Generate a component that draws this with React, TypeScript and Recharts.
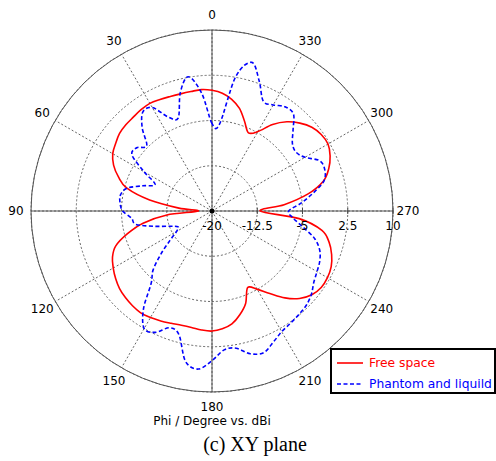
import {
  RadarChart,
  Radar,
  PolarGrid,
  PolarAngleAxis,
  PolarRadiusAxis,
  Legend,
} from "recharts";

// azimuth sampling (deg)
const PHI = [
  0, 5, 10, 15, 20, 25, 30, 35, 40, 45, 50, 55,
  60, 65, 70, 75, 80, 85, 90, 95, 100, 105, 110, 115,
  120, 125, 130, 135, 140, 145, 150, 155, 160, 165, 170, 175,
  180, 185, 190, 195, 200, 205, 210, 215, 220, 225, 230, 235,
  240, 245, 250, 255, 260, 265, 270, 275, 280, 285, 290, 295,
  300, 305, 310, 315, 320, 325, 330, 335, 340, 345, 350, 355,
];

// gain in dBi
const FREE_SPACE = [
  0.0, 0.2, 0.1, 0.1, 0.2, 0.4, 0.6, 0.5, 0.3, 0.2, 0.0, -0.5,
  -1.0, -2.0, -3.5, -5.4, -9.5, -14.5, -17.7, -12.5, -8.4, -5.5, -3.0, -1.8,
  -1.1, -0.5, 0.0, 0.3, 0.5, 0.6, 0.4, 0.1, -0.2, -0.4, -0.4, -0.2,
  -0.1, -0.4, -1.0, -2.2, -3.7, -6.0, -5.0, -3.3, -1.2, 0.5, 1.6, 2.1,
  2.1, 1.8, 1.1, 0.1, -1.5, -5.5, -12.0, -8.0, -3.9, -0.9, 0.6, 1.6,
  2.2, 2.1, 1.6, 0.6, -0.7, -2.5, -4.8, -5.7, -4.2, -2.4, -1.2, -0.4,
];

const PHANTOM_LIQUID = [
  -5.5, -0.4, 2.6, 0.3, -3.6, -2.8, -0.2, 0.0, -2.0, -4.7, -3.7, -3.8,
  -7.0, -9.6, -7.8, -5.4, -4.6, -4.7, -5.2, -6.6, -7.2, -10.2, -12.6, -13.8,
  -13.2, -11.5, -9.0, -6.2, -4.3, -0.2, 2.5, 2.2, 0.6, 1.2, 5.3, 6.3,
  4.8, 3.1, 3.1, 4.5, 5.0, 4.0, 3.1, 2.7, 2.4, 2.1, 1.5, 0.6,
  0.1, -0.3, -1.0, -2.4, -4.7, -6.5, -7.3, -5.2, -3.0, -0.8, -0.1, -0.3,
  -2.2, -3.0, -2.6, -1.0, 1.0, 1.1, 0.3, 0.1, 2.9, 5.5, 2.6, -5.5,
];

const ANGLE_TICKS = [0, 30, 60, 90, 120, 150, 180, 210, 240, 270, 300, 330];
const GAIN_TICKS = [-20, -12.5, -5, 2.5, 10];

const rows = PHI.map((phi, i) => ({
  phi,
  free: FREE_SPACE[i],
  phantom: PHANTOM_LIQUID[i],
}));

const FONT = "'DejaVu Sans', sans-serif";
const OUTER_R = 181;

// closed Catmull-Rom curve through the radar points
function smoothClosed(pts: { x: number; y: number }[]) {
  const n = pts.length;
  if (!n) return "";
  let d = `M${pts[0].x},${pts[0].y}`;
  for (let i = 0; i < n; i++) {
    const p0 = pts[(i - 1 + n) % n];
    const p1 = pts[i];
    const p2 = pts[(i + 1) % n];
    const p3 = pts[(i + 2) % n];
    const c1x = p1.x + (p2.x - p0.x) / 6;
    const c1y = p1.y + (p2.y - p0.y) / 6;
    const c2x = p2.x - (p3.x - p1.x) / 6;
    const c2y = p2.y - (p3.y - p1.y) / 6;
    d += ` C${c1x},${c1y} ${c2x},${c2y} ${p2.x},${p2.y}`;
  }
  return d + " Z";
}

function CurveShape(props: any) {
  return (
    <path
      d={smoothClosed(props.points || [])}
      fill="none"
      stroke={props.stroke}
      strokeWidth={props.strokeWidth}
      strokeDasharray={props.strokeDasharray}
    />
  );
}

function AngleTick({ x, y, payload }: any) {
  return (
    <text
      x={x}
      y={y}
      textAnchor="middle"
      dominantBaseline="central"
      fontSize={12}
      fontFamily={FONT}
      fill="#000"
    >
      {payload.value}
    </text>
  );
}

function GainTick({ x, y, payload }: any) {
  return (
    <g>
      {payload.value === -20 ? (
        <circle cx={x} cy={y} r={2.5} fill="#000" />
      ) : (
        <line x1={x} y1={y - 3} x2={x} y2={y + 3} stroke="#444" />
      )}
      <text
        x={x}
        y={y + 15}
        textAnchor="middle"
        dominantBaseline="central"
        fontSize={12}
        fontFamily={FONT}
        fill="#000"
      >
        {payload.value}
      </text>
    </g>
  );
}

function LegendBox({ payload }: any) {
  return (
    <div
      style={{
        width: 166,
        height: 46,
        boxSizing: "border-box",
        border: "2px solid #000",
        background: "#fff",
        padding: "2px 0 0 5px",
        fontFamily: FONT,
        fontSize: 12.3,
      }}
    >
      {(payload || []).map((entry: any) => (
        <div
          key={entry.value}
          style={{ display: "flex", alignItems: "center", height: 21 }}
        >
          <svg width={26} height={6}>
            <line
              x1={0}
              y1={3}
              x2={26}
              y2={3}
              stroke={entry.color}
              strokeWidth={1.6}
              strokeDasharray={entry.payload?.strokeDasharray}
            />
          </svg>
          <span style={{ color: entry.color, marginLeft: 6, whiteSpace: "nowrap" }}>
            {entry.value}
          </span>
        </div>
      ))}
    </div>
  );
}

export default function App() {
  return (
    <>
      <style>{"html, body { margin: 0; overflow: hidden; }"}</style>
      <div style={{ position: "relative", width: 496, height: 461 }}>
        <RadarChart
          width={496}
          height={461}
          data={rows}
          cx={212}
          cy={211}
          innerRadius={0}
          outerRadius={OUTER_R}
          startAngle={90}
          endAngle={450}
          margin={{ top: 0, right: 0, bottom: 0, left: 0 }}
        >
          {/* dashed rings and 30 deg spokes */}
          <PolarGrid gridType="circle" stroke="#666" strokeDasharray="2 2" />
          {/* solid outer ring and main axes */}
          <PolarGrid
            gridType="circle"
            polarRadius={[OUTER_R]}
            polarAngles={[0, 90, 180, 270]}
            stroke="#555"
          />
          <PolarAngleAxis
            dataKey="phi"
            type="number"
            domain={[0, 360]}
            ticks={ANGLE_TICKS}
            axisLine={false}
            tickLine={false}
            tickSize={15}
            tick={<AngleTick />}
          />
          <PolarRadiusAxis
            type="number"
            domain={[-20, 10]}
            ticks={GAIN_TICKS}
            angle={0}
            axisLine={false}
            tickLine={false}
            tick={<GainTick />}
          />
          <Radar
            name="Free space"
            dataKey="free"
            stroke="#ff0000"
            strokeWidth={1.6}
            fill="none"
            fillOpacity={0}
            dot={false}
            shape={CurveShape}
            isAnimationActive={false}
          />
          <Radar
            name="Phantom and liquild"
            dataKey="phantom"
            stroke="#0000ff"
            strokeWidth={1.6}
            strokeDasharray="4 2.5"
            fill="none"
            fillOpacity={0}
            dot={false}
            shape={CurveShape}
            isAnimationActive={false}
          />
          <Legend
            content={<LegendBox />}
            wrapperStyle={{ position: "absolute", left: 330, top: 348, width: 166, height: 46 }}
          />
        </RadarChart>
        <div
          style={{
            position: "absolute",
            left: 212,
            top: 421,
            transform: "translate(-50%, -50%)",
            fontFamily: FONT,
            fontSize: 12,
            lineHeight: "12px",
            whiteSpace: "nowrap",
          }}
        >
          Phi / Degree vs. dBi
        </div>
        <div
          style={{
            position: "absolute",
            left: 255,
            top: 444,
            transform: "translate(-50%, -50%)",
            fontFamily: "'Liberation Serif', 'Times New Roman', serif",
            fontSize: 20,
            lineHeight: "22px",
            whiteSpace: "nowrap",
          }}
        >
          (c) XY plane
        </div>
      </div>
    </>
  );
}
